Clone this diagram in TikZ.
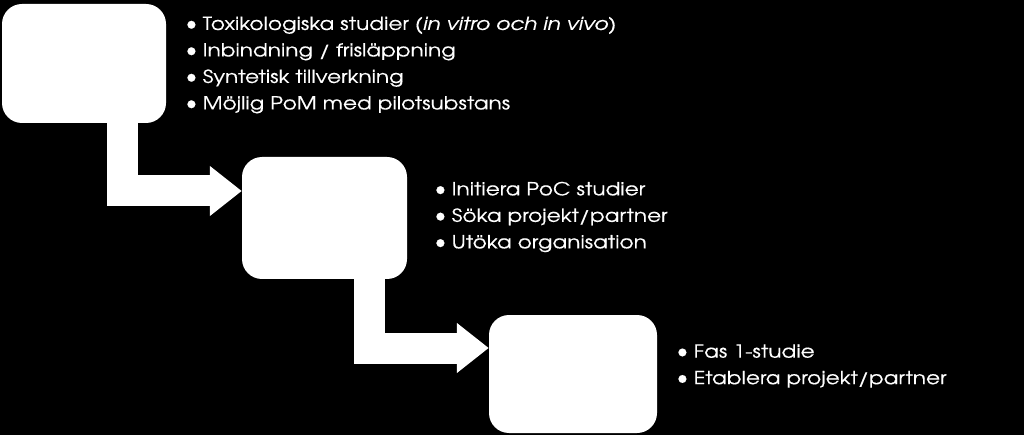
\documentclass[tikz,border=0pt]{standalone}
\usepackage{fontspec}
\setmainfont[FakeStretch=1.2,FakeBold=0.4]{TeX Gyre Adventor}
\newfontfamily\bulletfont[FakeBold=0.4]{TeX Gyre Adventor}
\usetikzlibrary{arrows.meta}
\begin{document}
\begin{tikzpicture}[x=1pt,y=-1pt,
  box/.style={fill=white, rounded corners=20pt, inner sep=0pt, draw=none},
  flow/.style={draw=white, line width=31pt, line join=miter,
    -{Triangle[length=32pt,width=48pt]}},
  list/.style={text=white, align=left, anchor=west, inner sep=0pt,
    font=\fontsize{18}{26.5}\selectfont}]
\fill[black] (0,0) rectangle (1024,435);
\useasboundingbox (0,0) rectangle (1024,435);
\newcommand\itm{\makebox[17pt][l]{\bulletfont\fontsize{22}{22}\selectfont\raisebox{-0.3pt}{•}}}
\node[box, minimum width=164pt, minimum height=119pt] (b1) at (84,63.5) {};
\node[box, minimum width=165pt, minimum height=122pt] (b2) at (324.5,218) {};
\node[box, minimum width=168pt, minimum height=118pt] (b3) at (573,374) {};
\coordinate (s1) at (122,118);
\coordinate (s2) at (369,275);
\draw[flow] (s1) |- (b2.west |- 0,191);
\draw[flow] (s2) |- (b3.west |- 0,348);
\node[list] (t1) at (185.5,65) {\itm Toxikologiska studier (\textit{in vitro och in vivo})\\
\itm Inbindning / frisläppning\\
\itm Syntetisk tillverkning\\
\itm Möjlig PoM med pilotsubstans};
\node[list] (t2) at (434.5,217) {\itm Initiera PoC studier\\
\itm Söka projekt/partner\\
\itm Utöka organisation};
\node[list] (t3) at (676.5,366) {\itm Fas 1-studie\\
\itm Etablera projekt/partner};
\end{tikzpicture}
\end{document}
